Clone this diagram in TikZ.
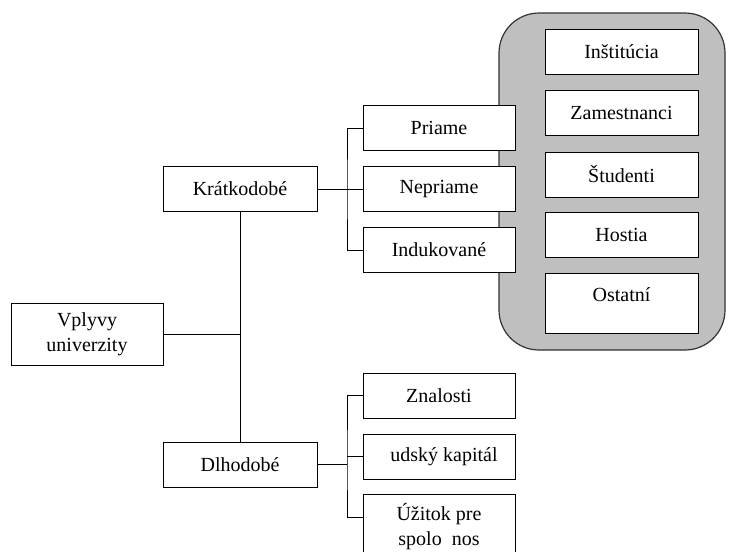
\documentclass[tikz,border=0pt]{standalone}
\usepackage{fontspec}
\setmainfont{Liberation Serif}
\usepackage{tikz}

\tikzset{
	box/.style={shape=rectangle,draw=black,fill=white,line width=0.5pt,minimum width=76pt,minimum height=22.5pt,inner sep=2pt,align=center,font=\fontsize{10}{12.5}\selectfont},
	link/.style={-,line width=0.5pt}
}

\begin{document}
\begin{tikzpicture}[x=0.5pt,y=-0.5pt]
	
	\clip (0,0) rectangle (729,552);
	
	\draw[rounded corners=20pt,fill=gray!50,draw=black!80,line width=0.6pt] (499,13) rectangle (725,350);
	
	\node[box,minimum width=76pt,minimum height=31pt] (vplyvy) at (87, 334)     {Vplyvy\\univerzity};
	\node[box,minimum width=77pt] (kratko) at (240, 189)     {Krátkodobé};
	\node[box,minimum width=77pt] (dlho) at (240, 464.5)     {Dlhodobé};
	
	\node[box] (priame) at (439, 128)     {Priame};
	\node[box] (nepriame) at (439, 189)     {Nepriame};
	\node[box] (indukovane) at (439, 250)     {Indukované};
	
	\node[box] (znalosti) at (439, 395.5)     {Znalosti};
	\node[box] (kapital) at (439, 456.5)     {\hspace{5pt}udský kapitál};
	\node[box,minimum height=33pt] (uzitok) at (439, 527)     {Úžitok pre\\spolo\ \ nos};
	
	\node[box,minimum width=76.5pt] (instit) at (621.5, 51.5)     {Inštitúcia};
	\node[box,minimum width=76.5pt] (zamest) at (621.5, 112.5)     {Zamestnanci};
	\node[box,minimum width=76.5pt] (student) at (621.5, 174.5)     {Študenti};
	\node[box,minimum width=76.5pt] (hostia) at (621.5, 234.5)     {Hostia};
	\node[box,minimum width=76.5pt,minimum height=30pt,text depth=8pt] (ostatni) at (621.5, 303)     {Ostatní};
	
	\coordinate (busK) at (347, 189);
	\coordinate (busD) at (347, 464);
	\coordinate (uzitokIn) at (363, 517);
	
	\draw[link] (kratko) -- (dlho);
	\draw[link] (vplyvy.east) -- (vplyvy.east -| kratko.south);
	
	\draw[link] (kratko) -- (nepriame);
	\draw[link] (priame.west) -| (busK) |- (indukovane.west);
	
	\draw[link] (dlho.east |- busD) -- (busD);
	\draw[link] (znalosti.west) -| (busD) |- (uzitokIn);
	\draw[link] (busD |- kapital.west) -- (kapital.west);
	
\end{tikzpicture}
\end{document}
